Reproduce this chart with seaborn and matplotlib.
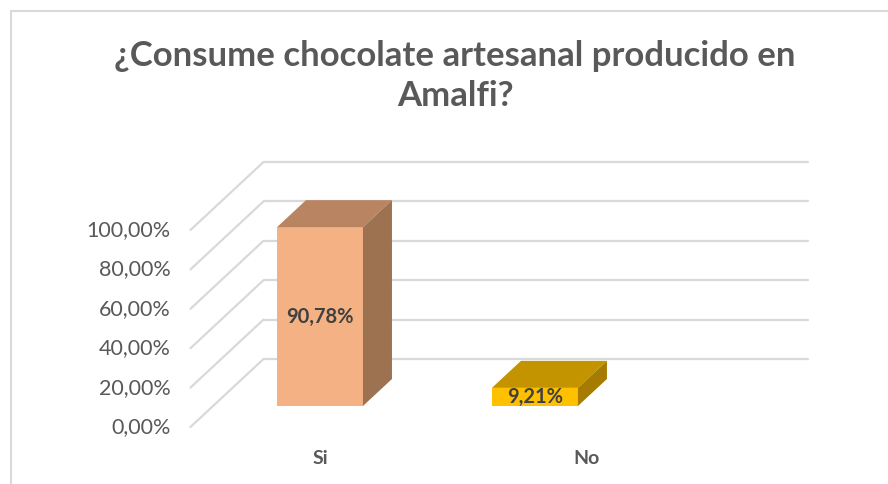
import matplotlib
matplotlib.use("Agg")
import matplotlib.pyplot as plt
from matplotlib.patches import Polygon
from matplotlib.lines import Line2D
import seaborn as sns
import pandas as pd

# Survey answers and their shares (%)
categories = ["Si", "No"]
values = [90.78, 9.21]
value_labels = ["90,78%", "9,21%"]
tick_values = [0, 20, 40, 60, 80, 100]
tick_labels = ["0,00%", "20,00%", "40,00%", "60,00%", "80,00%", "100,00%"]
title = "¿Consume chocolate artesanal producido en\nAmalfi?"

front_colors = ["#F4B183", "#FFC000"]
top_colors = ["#B98462", "#C49300"]
side_colors = ["#9C7251", "#A67C00"]

sns.set_theme(style="white")
plt.rcParams["font.family"] = ["Lato", "DejaVu Sans"]

W, H = 888, 484
fig = plt.figure(figsize=(W / 100, H / 100), dpi=100)
fig.patch.set_facecolor("white")

XL, XR = -0.5, 2.033
ax_left, ax_right, ax_bottom, ax_top = 212.5, 757.0, 406.0, 209.0
ax = fig.add_axes([ax_left / W, 1 - ax_bottom / H,
                   (ax_right - ax_left) / W, (ax_bottom - ax_top) / H])

df = pd.DataFrame({"cat": categories, "val": values})
sns.barplot(data=df, x="cat", y="val", hue="cat", palette=front_colors,
            width=0.4, legend=False, ax=ax, saturation=1, zorder=3,
            linewidth=0)
ax.set_xlim(XL, XR)
ax.set_ylim(0, 100)
ax.set_axis_off()

# pixel -> data unit conversion
px_x = (ax_right - ax_left) / (XR - XL)
px_y = (ax_bottom - ax_top) / 100.0

def dx(p):
    return p / px_x

def dy(p):
    return p / px_y

grid_c = "#D9D9D9"
back_dx, back_dy = dx(51), dy(47)
front_dx, front_dy = dx(-22), dy(-21)

# back wall and side wall gridlines
for v in tick_values:
    ax.add_line(Line2D([XL + back_dx, XR + back_dx], [v + back_dy, v + back_dy],
                       color=grid_c, lw=1.6, clip_on=False, zorder=1))
    ax.add_line(Line2D([XL + front_dx, XL + back_dx], [v + front_dy, v + back_dy],
                       color=grid_c, lw=1.6, clip_on=False, zorder=1))

# y tick labels on the front plane
for v, lab in zip(tick_values, tick_labels):
    ax.text(XL + front_dx - dx(20), v + front_dy, lab, ha="right", va="center",
            fontsize=15.5, color="#595959", clip_on=False)

# 3D depth faces of the bars
ddx, ddy = dx(29), dy(27)
for i, p in enumerate(ax.patches):
    x0 = p.get_x()
    x1 = x0 + p.get_width()
    h = p.get_height()
    top = Polygon([(x0, h), (x1, h), (x1 + ddx, h + ddy), (x0 + ddx, h + ddy)],
                  closed=True, facecolor=top_colors[i], edgecolor="none",
                  zorder=3, clip_on=False)
    side = Polygon([(x1, 0), (x1, h), (x1 + ddx, h + ddy), (x1 + ddx, ddy)],
                   closed=True, facecolor=side_colors[i], edgecolor="none",
                   zorder=3, clip_on=False)
    ax.add_patch(top)
    ax.add_patch(side)
    ax.text(x0 + p.get_width() / 2, h / 2, value_labels[i], ha="center",
            va="center", fontsize=14.5, fontweight="bold", color="#404040",
            zorder=5, clip_on=False)

# category labels
for i, c in enumerate(categories):
    ax.text(i * 1.242, dy(-52), c, ha="center", va="center", fontsize=14,
            fontweight="bold", color="#595959", clip_on=False)

fig.text(455 / W, 1 - 76 / H, title, ha="center", va="center", fontsize=25,
         fontweight="bold", color="#595959", linespacing=1.3)

# chart frame
fig.add_artist(Line2D([11 / W, 11 / W], [0, 1 - 11 / H], transform=fig.transFigure,
                      color="#D9D9D9", lw=1.5))
fig.add_artist(Line2D([11 / W, 1], [1 - 11 / H, 1 - 11 / H], transform=fig.transFigure,
                      color="#D9D9D9", lw=1.5))

fig.savefig("out.png", dpi=100, facecolor="white")
